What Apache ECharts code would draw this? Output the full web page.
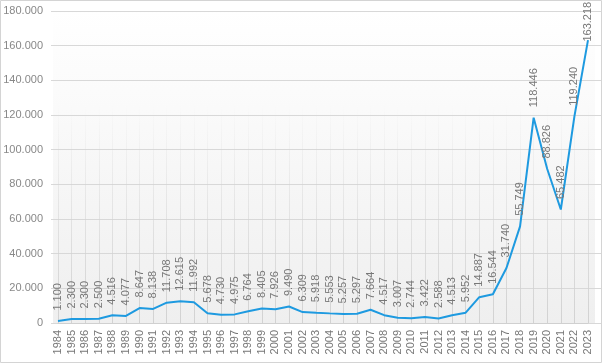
<!DOCTYPE html>
<html>
<head>
<meta charset="utf-8">
<script src="https://cdn.jsdelivr.net/npm/echarts@6/dist/echarts.min.js"></script>
<style>
html,body{margin:0;padding:0;background:#fff;}
#c{width:602px;height:363px;}
</style>
</head>
<body>
<div id="c"></div>
<script>
const years = ['1984','1985','1986','1987','1988','1989','1990','1991','1992','1993','1994','1995','1996','1997','1998','1999','2000','2001','2002','2003','2004','2005','2006','2007','2008','2009','2010','2011','2012','2013','2014','2015','2016','2017','2018','2019','2020','2021','2022','2023'];
const values = [1100,2300,2300,2500,4516,4077,8647,8138,11708,12615,11992,5678,4730,4975,6764,8405,7926,9490,6309,5918,5553,5257,5297,7664,4517,3007,2744,3422,2588,4513,5952,14887,16544,31740,55749,118446,88826,65482,119240,163218];
const yMin = 0, yMax = 180000, yStep = 20000;

function fmt(v){ return String(v).replace(/\B(?=(\d{3})+(?!\d))/g, '.'); }

// the last label is pushed down so it stays inside the chart, as in the reference
const seriesData = values.map(function(v, i){
  return i === values.length - 1 ? {value: v, label: {distance: -2}} : v;
});

const chart = echarts.init(document.getElementById('c'), null, {renderer:'canvas'});
const font = 'Liberation Sans, Arial, sans-serif';
chart.setOption({
  animation:false,
  backgroundColor:'#fff',
  graphic:[{type:'rect', silent:true, z:100,
    shape:{x:0.5,y:0.5,width:601,height:362},
    style:{fill:'none', stroke:'#d4d4d4', lineWidth:1}}],
  grid:[
    {left:51, right:1, top:11, bottom:40},
    {left:53, right:7, top:11, bottom:40, show:true, borderWidth:0,
      backgroundColor:new echarts.graphic.LinearGradient(0,0,0,1,[
        {offset:0,color:'#ffffff'},{offset:0.25,color:'#fbfbfb'},{offset:1,color:'#efefef'}])},
    {left:58, right:14, top:11, bottom:40}
  ],
  xAxis:[
    {gridIndex:0, type:'value', show:false, min:0, max:1},
    {gridIndex:1, type:'value', show:false, min:0, max:1},
    {gridIndex:2, type:'category', data:years, boundaryGap:false,
      axisLine:{show:true, lineStyle:{color:'#d0d0d0', width:1}},
      axisTick:{show:false},
      axisLabel:{rotate:90, interval:0, margin:7, color:'#777', fontSize:11, fontFamily:font},
      splitLine:{show:true, interval:0, lineStyle:{width:1,
        color:new echarts.graphic.LinearGradient(0,11,0,323,[
          {offset:0,color:'rgba(210,210,210,0)'},{offset:0.3,color:'rgba(210,210,210,0)'},{offset:1,color:'rgba(210,210,210,1)'}],true)}}}
  ],
  yAxis:[
    {gridIndex:0, type:'value', min:yMin, max:yMax, interval:yStep,
      axisLine:{show:false}, axisTick:{show:false},
      axisLabel:{margin:8, color:'#888', fontSize:11, fontFamily:font, formatter:fmt},
      splitLine:{show:true, lineStyle:{color:'#d8d8d8', width:1}}},
    {gridIndex:1, type:'value', min:yMin, max:yMax, show:false, splitLine:{show:false}},
    {gridIndex:2, type:'value', min:yMin, max:yMax, interval:yStep, show:false, splitLine:{show:false}}
  ],
  series:[{
    type:'line', xAxisIndex:2, yAxisIndex:2, data:seriesData,
    showSymbol:true, showAllSymbol:true, symbol:'circle', symbolSize:1,
    itemStyle:{color:'rgba(0,0,0,0)', borderWidth:0},
    lineStyle:{color:'#1e9ae0', width:2},
    label:{show:true, position:'top', distance:10, rotate:90, align:'left', verticalAlign:'middle',
      color:'#777', fontSize:11, fontFamily:font, formatter:function(p){return fmt(p.value);}},
    z:5
  }]
});
</script>
</body>
</html>
